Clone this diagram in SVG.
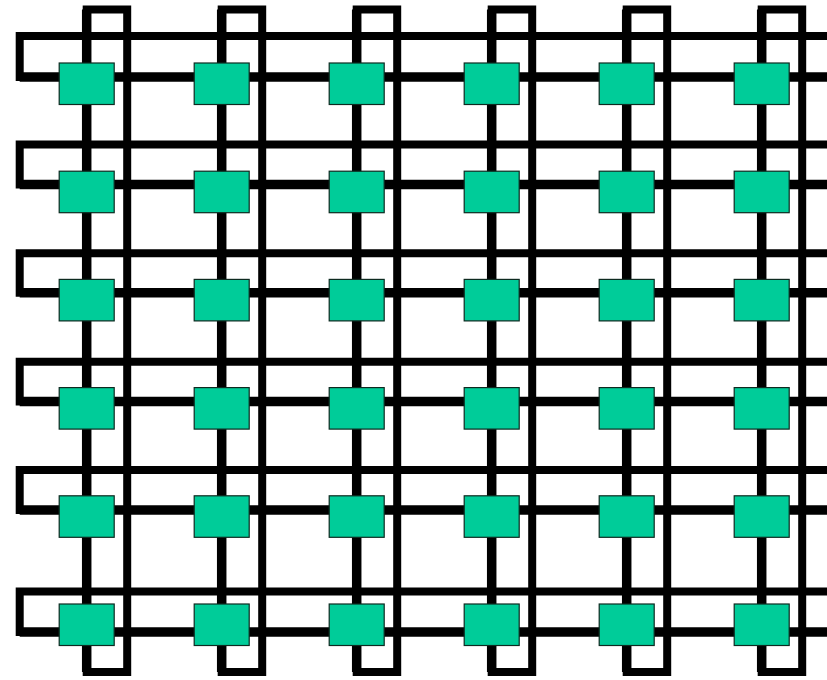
<svg xmlns="http://www.w3.org/2000/svg" width="827" height="680" viewBox="0 0 827 680">
<style>
.bg{fill:#ffffff}
.link{fill:none;stroke:#000000;stroke-width:8;stroke-linejoin:miter}
.axis{fill:none;stroke:#000000;stroke-width:9.5}
.node rect{fill:#00CC99;stroke:#0d2a20;stroke-width:1.2}
</style>
<rect class="bg" x="0" y="0" width="827" height="680"/>
<g id="connectors">
  <!-- column wrap-around loops -->
  <path class="link" d="M86.7,9.5 H127.2 V672 H86.7 Z"/>
  <path class="link" d="M221.7,9.5 H262.2 V672 H221.7 Z"/>
  <path class="link" d="M356.7,9.5 H397.2 V672 H356.7 Z"/>
  <path class="link" d="M491.7,9.5 H532.2 V672 H491.7 Z"/>
  <path class="link" d="M626.7,9.5 H667.2 V672 H626.7 Z"/>
  <path class="link" d="M761.7,9.5 H802.2 V672 H761.7 Z"/>
  <line class="axis" x1="86.7" y1="9.5" x2="86.7" y2="672"/>
  <line class="axis" x1="221.7" y1="9.5" x2="221.7" y2="672"/>
  <line class="axis" x1="356.7" y1="9.5" x2="356.7" y2="672"/>
  <line class="axis" x1="491.7" y1="9.5" x2="491.7" y2="672"/>
  <line class="axis" x1="626.7" y1="9.5" x2="626.7" y2="672"/>
  <line class="axis" x1="761.7" y1="9.5" x2="761.7" y2="672"/>
  <!-- row wrap-around loops -->
  <path class="link" d="M840,77 H19.7 V36 H840"/>
  <path class="link" d="M840,184.5 H19.7 V144.5 H840"/>
  <path class="link" d="M840,292.7 H19.7 V253.3 H840"/>
  <path class="link" d="M840,401.5 H19.7 V361.7 H840"/>
  <path class="link" d="M840,510 H19.7 V470 H840"/>
  <path class="link" d="M840,632 H19.7 V591.5 H840"/>
  <line class="axis" x1="19.7" y1="77" x2="840" y2="77"/>
  <line class="axis" x1="19.7" y1="184.5" x2="840" y2="184.5"/>
  <line class="axis" x1="19.7" y1="292.7" x2="840" y2="292.7"/>
  <line class="axis" x1="19.7" y1="401.5" x2="840" y2="401.5"/>
  <line class="axis" x1="19.7" y1="510" x2="840" y2="510"/>
  <line class="axis" x1="19.7" y1="632" x2="840" y2="632"/>
</g>
<g id="n11" class="node"><rect x="59.2" y="63" width="55" height="41.5"/></g>
<g id="n12" class="node"><rect x="194.2" y="63" width="55" height="41.5"/></g>
<g id="n13" class="node"><rect x="329.2" y="63" width="55" height="41.5"/></g>
<g id="n14" class="node"><rect x="464.2" y="63" width="55" height="41.5"/></g>
<g id="n15" class="node"><rect x="599.2" y="63" width="55" height="41.5"/></g>
<g id="n16" class="node"><rect x="734.2" y="63" width="55" height="41.5"/></g>
<g id="n21" class="node"><rect x="59.2" y="171.2" width="55" height="41.5"/></g>
<g id="n22" class="node"><rect x="194.2" y="171.2" width="55" height="41.5"/></g>
<g id="n23" class="node"><rect x="329.2" y="171.2" width="55" height="41.5"/></g>
<g id="n24" class="node"><rect x="464.2" y="171.2" width="55" height="41.5"/></g>
<g id="n25" class="node"><rect x="599.2" y="171.2" width="55" height="41.5"/></g>
<g id="n26" class="node"><rect x="734.2" y="171.2" width="55" height="41.5"/></g>
<g id="n31" class="node"><rect x="59.2" y="279.4" width="55" height="41.5"/></g>
<g id="n32" class="node"><rect x="194.2" y="279.4" width="55" height="41.5"/></g>
<g id="n33" class="node"><rect x="329.2" y="279.4" width="55" height="41.5"/></g>
<g id="n34" class="node"><rect x="464.2" y="279.4" width="55" height="41.5"/></g>
<g id="n35" class="node"><rect x="599.2" y="279.4" width="55" height="41.5"/></g>
<g id="n36" class="node"><rect x="734.2" y="279.4" width="55" height="41.5"/></g>
<g id="n41" class="node"><rect x="59.2" y="387.6" width="55" height="41.5"/></g>
<g id="n42" class="node"><rect x="194.2" y="387.6" width="55" height="41.5"/></g>
<g id="n43" class="node"><rect x="329.2" y="387.6" width="55" height="41.5"/></g>
<g id="n44" class="node"><rect x="464.2" y="387.6" width="55" height="41.5"/></g>
<g id="n45" class="node"><rect x="599.2" y="387.6" width="55" height="41.5"/></g>
<g id="n46" class="node"><rect x="734.2" y="387.6" width="55" height="41.5"/></g>
<g id="n51" class="node"><rect x="59.2" y="495.8" width="55" height="41.5"/></g>
<g id="n52" class="node"><rect x="194.2" y="495.8" width="55" height="41.5"/></g>
<g id="n53" class="node"><rect x="329.2" y="495.8" width="55" height="41.5"/></g>
<g id="n54" class="node"><rect x="464.2" y="495.8" width="55" height="41.5"/></g>
<g id="n55" class="node"><rect x="599.2" y="495.8" width="55" height="41.5"/></g>
<g id="n56" class="node"><rect x="734.2" y="495.8" width="55" height="41.5"/></g>
<g id="n61" class="node"><rect x="59.2" y="604" width="55" height="41.5"/></g>
<g id="n62" class="node"><rect x="194.2" y="604" width="55" height="41.5"/></g>
<g id="n63" class="node"><rect x="329.2" y="604" width="55" height="41.5"/></g>
<g id="n64" class="node"><rect x="464.2" y="604" width="55" height="41.5"/></g>
<g id="n65" class="node"><rect x="599.2" y="604" width="55" height="41.5"/></g>
<g id="n66" class="node"><rect x="734.2" y="604" width="55" height="41.5"/></g>
</svg>
